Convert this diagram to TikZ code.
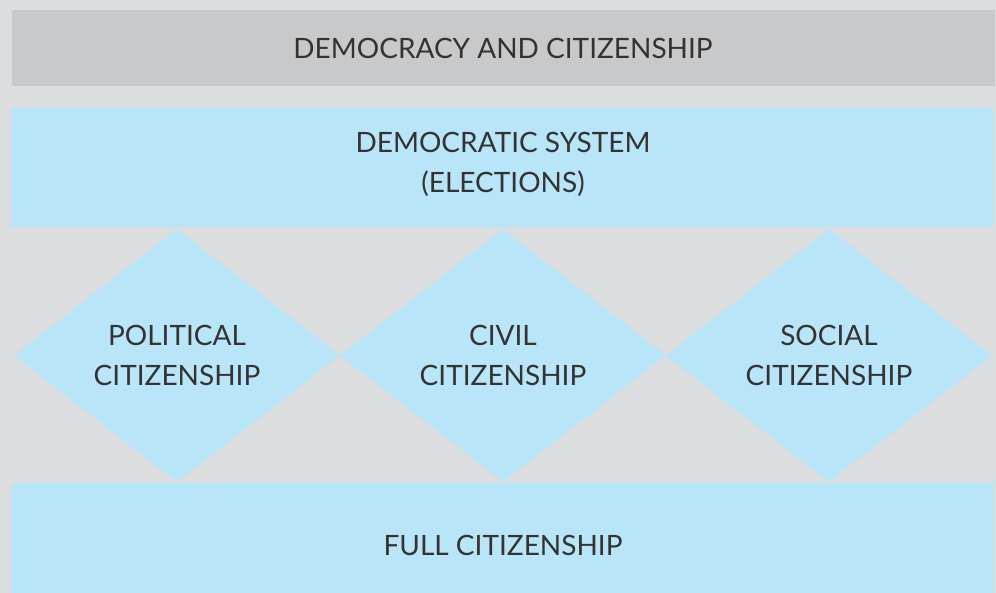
\documentclass[tikz,border=0pt]{standalone}
\usepackage{fontspec}
\setmainfont{Lato}
\usetikzlibrary{shapes.geometric}
\definecolor{pagegray}{HTML}{DCDDDF}
\definecolor{bargray}{HTML}{C8C9CB}
\definecolor{paleblue}{HTML}{B9E5F9}
\definecolor{inkgray}{HTML}{333333}
\tikzset{
  caption/.style={text=inkgray, align=center, font=\fontsize{28}{40}\selectfont},
  rhomb/.style={diamond, fill=paleblue, inner sep=0pt, minimum width=326pt, minimum height=253pt}
}
\begin{document}
\begin{tikzpicture}[x=1pt, y=-1pt]
\useasboundingbox (0,0) rectangle (996,593);
\fill[pagegray] (0,0) rectangle (996,593);
% bands
\fill[bargray] (12,10) rectangle (995,86);
\fill[paleblue] (12,108) rectangle (994,227);
\fill[paleblue] (12,483) rectangle (994,593);
\node[caption] (title) at (503,48) {DEMOCRACY AND CITIZENSHIP};
\node[caption] (system) at (503,164.5) {DEMOCRATIC SYSTEM\\(ELECTIONS)};
% the three kinds of citizenship
\node[rhomb] (political) at (177,355.5) {};
\node[rhomb] (civil) at (503,355.5) {};
\node[rhomb] (social) at (829,355.5) {};
\node[caption] at (political) {POLITICAL\\CITIZENSHIP};
\node[caption] at (civil) {CIVIL\\CITIZENSHIP};
\node[caption] at (social) {SOCIAL\\CITIZENSHIP};
\node[caption] (full) at (503,545.5) {FULL CITIZENSHIP};
\end{tikzpicture}
\end{document}
